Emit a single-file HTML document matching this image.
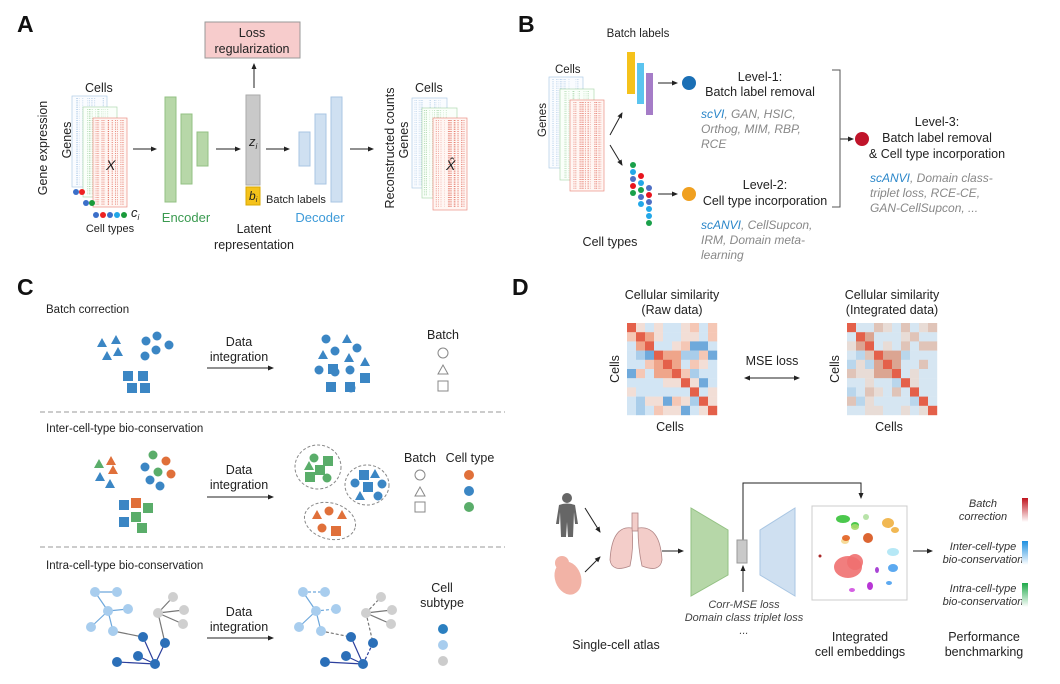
<!DOCTYPE html>
<html><head><meta charset="utf-8"><style>
html,body{margin:0;padding:0;background:#fff;}
svg{display:block;font-family:"Liberation Sans",Arial,sans-serif;}
.t{font-size:12.5px;fill:#222;}
.s{font-size:11.5px;fill:#222;}
.g{font-size:12px;fill:#888;font-style:italic;}
.L{font-size:23px;font-weight:bold;fill:#111;}
</style></head><body>
<svg id="sv" width="1060" height="684" viewBox="0 0 1060 684" xmlns="http://www.w3.org/2000/svg">
<defs>
<marker id="ar" markerWidth="6" markerHeight="6" refX="5" refY="3" orient="auto"><path d="M0,0.5 L6,3 L0,5.5z" fill="#222"/></marker>
<marker id="ar2" markerWidth="6" markerHeight="6" refX="1" refY="3" orient="auto"><path d="M6,0.5 L0,3 L6,5.5z" fill="#222"/></marker>
<linearGradient id="gr" x1="0" y1="0" x2="0" y2="1"><stop offset="0" stop-color="#c0141e"/><stop offset="1" stop-color="#fff"/></linearGradient>
<linearGradient id="gb" x1="0" y1="0" x2="0" y2="1"><stop offset="0" stop-color="#1e90e0"/><stop offset="1" stop-color="#fff"/></linearGradient>
<linearGradient id="gg" x1="0" y1="0" x2="0" y2="1"><stop offset="0" stop-color="#1faa4a"/><stop offset="1" stop-color="#fff"/></linearGradient>
</defs>
<g stroke="#222" stroke-width="1" fill="none" marker-end="url(#ar)">
<line x1="254" y1="88" x2="254" y2="64"/>
<line x1="133" y1="149" x2="156" y2="149"/>
<line x1="216" y1="149" x2="240" y2="149"/>
<line x1="266" y1="149" x2="289" y2="149"/>
<line x1="350" y1="149" x2="373" y2="149"/>
<line x1="610" y1="135" x2="622" y2="113"/>
<line x1="610" y1="145" x2="622" y2="165"/>
<line x1="658" y1="83" x2="677" y2="83"/>
<line x1="658" y1="194" x2="677" y2="194"/>
<line x1="840" y1="139" x2="853" y2="139"/>
<line x1="207" y1="368" x2="273" y2="368"/>
<line x1="207" y1="497" x2="273" y2="497"/>
<line x1="207" y1="638" x2="273" y2="638"/>
<line x1="585" y1="508" x2="600" y2="532"/>
<line x1="585" y1="572" x2="600" y2="557"/>
<line x1="662" y1="551" x2="683" y2="551"/>
<line x1="913" y1="551" x2="932" y2="551"/>
<line x1="743" y1="592" x2="743" y2="566"/>
<polyline points="743,540 743,483 861,483 861,498"/>
<line x1="745" y1="378" x2="799" y2="378" marker-start="url(#ar2)"/>
</g>
<!-- Panel A -->
<text class="L" x="17" y="32">A</text>
<rect x="205" y="22" width="95" height="36" fill="#f7cccc" stroke="#999"/>
<text class="t" x="252" y="37" text-anchor="middle">Loss</text>
<text class="t" x="252" y="53" text-anchor="middle">regularization</text>
<g id="matA"></g>
<text class="t" x="85" y="92">Cells</text>
<text class="t" transform="translate(71,140) rotate(-90)" text-anchor="middle">Genes</text>
<text class="t" transform="translate(47,148) rotate(-90)" text-anchor="middle">Gene expression</text>
<text x="106" y="170" style="font-size:14px;font-style:italic;fill:#222">X</text>
<g><circle cx="76" cy="192" r="3" fill="#3b6fc9"/><circle cx="82" cy="192" r="3" fill="#e22"/>
<circle cx="86" cy="203" r="3" fill="#3b6fc9"/><circle cx="92" cy="203" r="3" fill="#1a9a3a"/>
<circle cx="96" cy="215" r="3" fill="#3b6fc9"/><circle cx="103" cy="215" r="3" fill="#e22"/><circle cx="110" cy="215" r="3" fill="#3b6fc9"/><circle cx="117" cy="215" r="3" fill="#22a7e8"/><circle cx="124" cy="215" r="3" fill="#1a9a3a"/></g>
<text x="131" y="217" style="font-size:13px;font-style:italic;fill:#222">c<tspan font-size="8" dy="3">i</tspan></text>
<text class="s" x="110" y="232" text-anchor="middle" style="font-size:11px">Cell types</text>
<g fill="#b7d7a8" stroke="#93c183"><rect x="165" y="97" width="11" height="105"/><rect x="181" y="114" width="11" height="70"/><rect x="197" y="132" width="11" height="34"/></g>
<text x="186" y="222" text-anchor="middle" style="font-size:13px;fill:#3a9a50">Encoder</text>
<rect x="246" y="95" width="14" height="90" fill="#c9c9c9" stroke="#aaa"/>
<text x="249" y="146" style="font-size:13px;font-style:italic;fill:#222">z<tspan font-size="8" dy="3">i</tspan></text>
<rect x="246" y="187" width="14" height="18" fill="#f5c21b" stroke="#d9a800"/>
<text x="249" y="200" style="font-size:12px;font-style:italic;fill:#222">b<tspan font-size="7" dy="2">i</tspan></text>
<text class="s" x="266" y="203" style="font-size:11px">Batch labels</text>
<g fill="#cfe0f1" stroke="#a9c6e3"><rect x="299" y="132" width="11" height="34"/><rect x="315" y="114" width="11" height="70"/><rect x="331" y="97" width="11" height="105"/></g>
<text x="320" y="222" text-anchor="middle" style="font-size:13px;fill:#3d9ad8">Decoder</text>
<text class="t" x="254" y="233" text-anchor="middle">Latent</text>
<text class="t" x="254" y="249" text-anchor="middle">representation</text>
<text class="t" transform="translate(394,148) rotate(-90)" text-anchor="middle">Reconstructed counts</text>
<text class="t" transform="translate(408,140) rotate(-90)" text-anchor="middle">Genes</text>
<text class="t" x="415" y="92">Cells</text>
<text x="446" y="170" style="font-size:14px;font-style:italic;fill:#222">X̂</text>
<!-- Panel B -->
<text class="L" x="518" y="32">B</text>
<text class="s" x="638" y="37" text-anchor="middle">Batch labels</text>
<text class="s" x="555" y="73">Cells</text>
<text class="s" transform="translate(546,120) rotate(-90)" text-anchor="middle">Genes</text>
<rect x="627" y="52" width="8" height="42" fill="#f5c21b"/>
<rect x="637" y="63" width="7" height="41" fill="#5bc4ef"/>
<rect x="646" y="73" width="7" height="42" fill="#a57cc7"/>
<g id="ctB"></g>
<circle cx="689" cy="83" r="7" fill="#1a6fb5"/>
<circle cx="689" cy="194" r="7" fill="#f0a020"/>
<circle cx="862" cy="139" r="7" fill="#c0142a"/>
<text class="t" x="760" y="81" text-anchor="middle">Level-1:</text>
<text class="t" x="760" y="96" text-anchor="middle">Batch label removal</text>
<text class="g" x="701" y="118"><tspan fill="#2a86c9">scVI</tspan>, GAN, HSIC,</text>
<text class="g" x="701" y="133">Orthog, MIM, RBP,</text>
<text class="g" x="701" y="148">RCE</text>
<text class="t" x="765" y="189" text-anchor="middle">Level-2:</text>
<text class="t" x="765" y="205" text-anchor="middle">Cell type incorporation</text>
<text class="g" x="701" y="229"><tspan fill="#2a86c9">scANVI</tspan>, CellSupcon,</text>
<text class="g" x="701" y="244">IRM, Domain meta-</text>
<text class="g" x="701" y="259">learning</text>
<polyline points="832,70 840,70 840,207 832,207" fill="none" stroke="#555"/>
<text class="t" x="937" y="126" text-anchor="middle">Level-3:</text>
<text class="t" x="937" y="142" text-anchor="middle">Batch label removal</text>
<text class="t" x="937" y="158" text-anchor="middle">&amp; Cell type incorporation</text>
<text class="g" x="870" y="182"><tspan fill="#2a86c9">scANVI</tspan>, Domain class-</text>
<text class="g" x="870" y="197">triplet loss, RCE-CE,</text>
<text class="g" x="870" y="212">GAN-CellSupcon, ...</text>
<text class="t" x="610" y="246" text-anchor="middle">Cell types</text>
<!-- Panel C -->
<text class="L" x="17" y="295">C</text>
<text class="s" x="46" y="313">Batch correction</text>
<text class="s" x="46" y="432">Inter-cell-type bio-conservation</text>
<text class="s" x="46" y="569">Intra-cell-type bio-conservation</text>
<g class="t" text-anchor="middle">
<text x="239" y="346">Data</text><text x="239" y="361">integration</text>
<text x="239" y="474">Data</text><text x="239" y="489">integration</text>
<text x="239" y="616">Data</text><text x="239" y="631">integration</text>
<text x="443" y="339">Batch</text>
<text x="420" y="462">Batch</text><text x="470" y="462">Cell type</text>
<text x="442" y="592">Cell</text><text x="442" y="607">subtype</text>
</g>
<line x1="40" y1="412" x2="505" y2="412" stroke="#999" stroke-dasharray="5,3"/>
<line x1="40" y1="547" x2="505" y2="547" stroke="#999" stroke-dasharray="5,3"/>
<g fill="none" stroke="#888" stroke-width="1">
<circle cx="443" cy="353" r="5"/><path d="M438,374 L443,365 L448,374z"/><rect x="438" y="381" width="10" height="10"/>
<circle cx="420" cy="475" r="5"/><path d="M415,496 L420,487 L425,496z"/><rect x="415" y="502" width="10" height="10"/>
<ellipse cx="318" cy="467" rx="23" ry="22" stroke-dasharray="3,2"/>
<ellipse cx="367" cy="485" rx="22" ry="20" stroke-dasharray="3,2"/>
<ellipse cx="330" cy="521" rx="26" ry="18" stroke-dasharray="3,2" transform="rotate(15 330 521)"/>
</g>
<circle cx="469" cy="475" r="5" fill="#e0703a"/><circle cx="469" cy="491" r="5" fill="#3b86c4"/><circle cx="469" cy="507" r="5" fill="#5aad6a"/>
<circle cx="443" cy="629" r="5" fill="#2b7fc0"/><circle cx="443" cy="645" r="5" fill="#a8cdee"/><circle cx="443" cy="661" r="5" fill="#ccc"/>
<g id="shapesC"></g>
<!-- Panel D -->
<text class="L" x="512" y="295">D</text>
<g class="t" text-anchor="middle">
<text x="672" y="299">Cellular similarity</text><text x="672" y="314">(Raw data)</text>
<text x="892" y="299">Cellular similarity</text><text x="892" y="314">(Integrated data)</text>
<text x="670" y="431">Cells</text><text x="889" y="431">Cells</text>
<text x="772" y="365">MSE loss</text>
<text x="616" y="649">Single-cell atlas</text>
<text x="860" y="641">Integrated</text><text x="860" y="656">cell embeddings</text>
<text x="984" y="641">Performance</text><text x="984" y="656">benchmarking</text>
</g>
<text class="t" transform="translate(619,369) rotate(-90)" text-anchor="middle">Cells</text>
<text class="t" transform="translate(839,369) rotate(-90)" text-anchor="middle">Cells</text>
<g id="hm"></g>
<g fill="#666"><circle cx="567" cy="498" r="5"/><path d="M559,505 Q567,502 575,505 L578,524 L575,524 L574,512 L573,537 L568,537 L567,522 L566,537 L561,537 L560,512 L559,524 L556,524z"/></g>
<ellipse cx="568" cy="578" rx="13" ry="17" fill="#f2b3a6" transform="rotate(-20 568 578)"/>
<circle cx="562" cy="563" r="7" fill="#f2b3a6"/>
<g fill="#f3cdc9" stroke="#b08585" stroke-width="0.8"><rect x="632" y="513" width="6" height="18"/>
<path d="M632,528 Q612,525 610,560 Q612,573 630,566 Q634,548 632,528z"/>
<path d="M638,528 Q660,525 662,560 Q660,573 642,566 Q638,548 638,528z"/></g>
<polygon points="691,508 728,530 728,575 691,596" fill="#b6d7a8" stroke="#93c183"/>
<rect x="737" y="540" width="10" height="23" fill="#c9c9c9" stroke="#999"/>
<polygon points="760,530 795,508 795,596 760,575" fill="#cfe0f1" stroke="#a9c6e3"/>
<g style="font-size:11px;font-style:italic;fill:#444" text-anchor="middle">
<text x="744" y="608">Corr-MSE loss</text><text x="744" y="621">Domain class triplet loss</text><text x="744" y="634">...</text></g>
<rect x="812" y="506" width="95" height="94" fill="#fff" stroke="#ccc"/>
<g id="emb"></g>
<g style="font-size:11px;font-style:italic;fill:#333" text-anchor="middle">
<text x="983" y="507">Batch</text><text x="983" y="520">correction</text>
<text x="983" y="550">Inter-cell-type</text><text x="983" y="563">bio-conservation</text>
<text x="983" y="592">Intra-cell-type</text><text x="983" y="605">bio-conservation</text></g>
<rect x="1022" y="498" width="6" height="24" fill="url(#gr)"/>
<rect x="1022" y="541" width="6" height="24" fill="url(#gb)"/>
<rect x="1022" y="583" width="6" height="24" fill="url(#gg)"/>
</svg>
<script>
var NS="http://www.w3.org/2000/svg",sv=document.getElementById("sv");
function el(p,t,a){var e=document.createElementNS(NS,t);for(var k in a)e.setAttribute(k,a[k]);p.appendChild(e);return e;}
var seed=7;function R(){seed=(seed*9301+49297)%233280;return seed/233280;}
function mat(g,x,y,w,h,col,fill,dens){el(g,"rect",{x:x,y:y,width:w,height:h,fill:fill,stroke:col,"stroke-width":0.7,"stroke-opacity":0.7});
for(var i=0;i<dens;i++){var xx=x+2+R()*(w-4);el(g,"line",{x1:xx,y1:y+2,x2:xx,y2:y+h-2,stroke:col,"stroke-width":0.7,"stroke-opacity":0.35+R()*0.4,"stroke-dasharray":"1,1.2"});}}
var mA=document.getElementById("matA");
mat(mA,72,96,35,91,"#8fb6dc","#fafcff",14);mat(mA,83,107,34,90,"#8fc890","#fafffa",14);mat(mA,93,118,34,89,"#e06050","#fff6f3",24);
mat(mA,412,98,35,90,"#8fb6dc","#fafcff",14);mat(mA,422,108,35,90,"#8fc890","#fafffa",14);mat(mA,433,118,34,92,"#e06050","#fff6f3",24);
mat(mA,549,77,34,91,"#8fb6dc","#fafcff",14);mat(mA,560,89,34,91,"#8fc890","#fafffa",14);mat(mA,570,100,34,91,"#e06050","#fff6f3",24);
var ct=document.getElementById("ctB"),C={g:"#1aa04a",b:"#22a7e8",d:"#4d6fc4",r:"#e8141e"};
[[633,165,"g"],[633,172,"b"],[633,179,"d"],[633,186,"r"],[633,193,"g"],[641,176,"r"],[641,183,"b"],[641,190,"g"],[641,197,"d"],[641,204,"b"],[649,188,"d"],[649,195,"r"],[649,202,"d"],[649,209,"b"],[649,216,"b"],[649,223,"g"]].forEach(function(p){el(ct,"circle",{cx:p[0],cy:p[1],r:3,fill:C[p[2]]});});
var sc=document.getElementById("shapesC");
function tri(x,y,c){el(sc,"path",{d:"M"+(x-5)+","+(y+4)+" L"+x+","+(y-5)+" L"+(x+5)+","+(y+4)+"z",fill:c});}
function cir(x,y,c){el(sc,"circle",{cx:x,cy:y,r:4.5,fill:c});}
function sq(x,y,c){el(sc,"rect",{x:x-5,y:y-5,width:10,height:10,fill:c});}
var B="#3b86c4",O="#e0703a",G="#5aad6a",LB="#a8cdee",GY="#cfcfcf",DB="#2b6fb8";
[[102,343],[116,340],[107,356],[118,352]].forEach(function(p){tri(p[0],p[1],B);});
[[146,341],[157,336],[169,345],[156,350],[145,356]].forEach(function(p){cir(p[0],p[1],B);});
[[128,376],[143,376],[132,388],[145,388]].forEach(function(p){sq(p[0],p[1],B);});
[[326,339],[335,351],[357,348],[319,370],[335,372],[350,370],[351,388],[365,378]].forEach(function(p){cir(p[0],p[1],B);});
[[347,339],[323,355],[349,358],[365,362]].forEach(function(p){tri(p[0],p[1],B);});
[[333,369],[365,378],[331,387],[350,387]].forEach(function(p){sq(p[0],p[1],B);});
tri(99,464,G);tri(111,461,O);tri(113,470,O);tri(100,477,B);tri(110,484,B);
cir(153,455,G);cir(166,461,O);cir(145,467,B);cir(158,472,G);cir(171,474,O);cir(150,480,B);cir(160,486,B);
sq(124,505,B);sq(136,503,O);sq(148,508,G);sq(136,517,G);sq(124,522,B);sq(142,528,G);
cir(314,458,G);tri(309,466,G);sq(328,461,G);sq(320,470,G);sq(310,477,G);cir(327,478,G);
sq(364,475,B);tri(375,474,B);cir(355,483,B);sq(368,487,B);cir(382,484,B);tri(360,496,B);cir(378,496,B);
tri(317,515,O);cir(329,511,O);tri(342,515,O);cir(322,528,O);sq(336,531,O);
function ln(a,b,c,d,col,dash){el(sc,"line",{x1:a,y1:b,x2:c,y2:d,stroke:col,"stroke-width":1.2,"stroke-dasharray":dash||""});}
function graph(ox,dashed){var D=dashed?"3,2":"";
var lb=[[95,592],[117,592],[108,611],[128,609],[91,627],[113,631]],gy=[[173,597],[184,610],[183,624],[158,613]],db=[[143,637],[165,643],[138,656],[117,662],[155,664]];
lb=lb.map(function(p){return[p[0]+ox,p[1]]});gy=gy.map(function(p){return[p[0]+ox,p[1]]});db=db.map(function(p){return[p[0]+ox,p[1]]});
ln(lb[0][0],lb[0][1],lb[1][0],lb[1][1],"#6ea8dc",D);ln(lb[0][0],lb[0][1],lb[2][0],lb[2][1],"#6ea8dc");ln(lb[2][0],lb[2][1],lb[3][0],lb[3][1],"#6ea8dc",D);ln(lb[2][0],lb[2][1],lb[4][0],lb[4][1],"#6ea8dc");ln(lb[2][0],lb[2][1],lb[5][0],lb[5][1],"#6ea8dc");
gy.slice(0,3).forEach(function(p,i){ln(gy[3][0],gy[3][1],p[0],p[1],"#777",i==0?D:"");});
ln(lb[5][0],lb[5][1],db[0][0],db[0][1],"#777",D);ln(gy[3][0],gy[3][1],db[1][0],db[1][1],"#777",D);
ln(db[4][0],db[4][1],db[0][0],db[0][1],"#2c3f9c");ln(db[4][0],db[4][1],db[1][0],db[1][1],"#2c3f9c",D);ln(db[4][0],db[4][1],db[2][0],db[2][1],"#2c3f9c");ln(db[4][0],db[4][1],db[3][0],db[3][1],"#2c3f9c");
lb.forEach(function(p){el(sc,"circle",{cx:p[0],cy:p[1],r:5,fill:LB});});gy.forEach(function(p){el(sc,"circle",{cx:p[0],cy:p[1],r:5,fill:GY});});db.forEach(function(p){el(sc,"circle",{cx:p[0],cy:p[1],r:5,fill:DB});});}
graph(0,false);graph(208,true);
var hm=document.getElementById("hm");
function heat(x0,y0,integ){var blocks=[[0,0],[1,2],[3,5],[6,6],[7,7],[8,8],[9,9]];
for(var i=0;i<10;i++)for(var j=0;j<10;j++){var c;
var same=false;blocks.forEach(function(b){if(i>=b[0]&&i<=b[1]&&j>=b[0]&&j<=b[1])same=true;});
if(i==j)c="#e4604a";else if(same)c=integ?"#dba592":"#efa58a";else{var v=R();
if(integ)c=v<0.45?"#d6e6f2":v<0.7?"#e8dcd6":v<0.85?"#e0c4b8":"#b9d6ec";
else c=v<0.35?"#d2e5f4":v<0.55?"#f2ded6":v<0.7?"#f5c7b5":v<0.85?"#a9cdea":"#6fa9db";}
el(hm,"rect",{x:x0+j*9,y:y0+i*9.2,width:9.2,height:9.4,fill:c});}}
heat(627,323,false);heat(847,323,true);
var em=document.getElementById("emb");
[[843,519,7,4,"#37c23a"],[855,525,4,3,"#37c23a"],[855,527,4,3,"#a6d96a"],[866,517,3,3,"#b0e0a0"],[888,523,6,5,"#f0b040"],[895,530,4,3,"#f0b040"],[845,541,4,3,"#f5d890"],[846,538,4,3,"#e26020"],[868,538,5,5,"#d8541c"],[893,552,6,4,"#aee6f5"],[848,567,14,11,"#f07070"],[855,562,8,8,"#f07070"],[893,568,5,4,"#4aa0ee"],[889,583,3,2,"#4aa0ee"],[870,586,3,4,"#b020d0"],[852,590,3,2,"#d050e0"],[877,570,2,3,"#a030d0"],[820,556,1.5,1.5,"#a01010"]].forEach(function(p){el(em,"ellipse",{cx:p[0],cy:p[1],rx:p[2],ry:p[3],fill:p[4],opacity:0.9});});
</script>
</body></html>
